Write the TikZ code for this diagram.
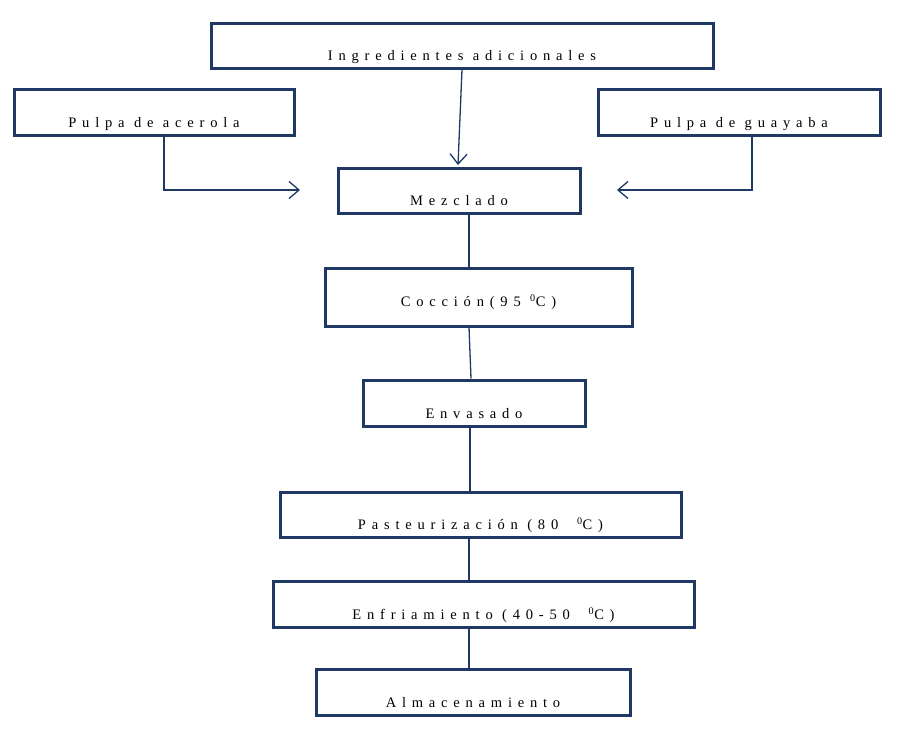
\documentclass[tikz,border=0pt]{standalone}
\usepackage{fontspec}
\setmainfont{Liberation Serif}[LetterSpace=40]
\usetikzlibrary{arrows.meta}
\definecolor{navy}{HTML}{1F3864}
\begin{document}
\begin{tikzpicture}[x=1pt,y=-1pt,
  box/.style={draw=navy,line width=3pt,inner sep=0pt},
  lab/.style={anchor=base,yshift=9pt,inner sep=0pt,font=\fontsize{14.5}{16}\selectfont},
  ln/.style={draw=navy,line width=1.3pt},
  ar/.style={ln,-{Straight Barb[length=10pt,width=17pt,line width=1.3pt]}}]
\useasboundingbox (0,0) rectangle (921,744);
\newcommand\bx[7][9]{\node[box,minimum width=#4-#3,minimum height=#6-#5,label={[lab,yshift=#1pt-9pt]south:#7}] (#2) at ({(#3+#4)/2},{(#5+#6)/2}) {};}
\bx{ing}{211}{713}{23}{68}{Ingredientes adicionales}
\bx{ace}{14}{294}{89}{135}{Pulpa de acerola}
\bx{gua}{598}{880}{89}{135}{Pulpa de guayaba}
\bx{mez}{338}{580}{168}{213}{Mezclado}
\bx[21]{coc}{325}{632}{268}{326}{Cocción(95 \textsuperscript{0}C)}
\bx{env}{363}{585}{380}{426}{Envasado}
\bx{pas}{280}{681}{492}{537}{Pasteurización (80 \ \textsuperscript{0}C)}
\bx{enf}{273}{694}{581}{627}{Enfriamiento (40-50 \ \textsuperscript{0}C)}
\bx{alm}{316}{630}{669}{715}{Almacenamiento}
\coordinate (m1) at (458,165);
\coordinate (aL) at (300,190);
\coordinate (aR) at (617,190);
\draw[ar] (ing.south -| 462,0) -- (m1);
\draw[ar] (ace.south -| 164,0) -- (164,190) -- (aL);
\draw[ar] (gua.south -| 752,0) -- (752,190) -- (aR);
\draw[ln] (mez.south -| 469,0) -- (coc.north -| 469,0);
\draw[ln] (coc.south -| 469,0) -- (env.north -| 471,0);
\draw[ln] (env.south -| 470,0) -- (pas.north -| 470,0);
\draw[ln] (pas.south -| 469,0) -- (enf.north -| 469,0);
\draw[ln] (enf.south -| 469,0) -- (alm.north -| 469,0);
\end{tikzpicture}
\end{document}
